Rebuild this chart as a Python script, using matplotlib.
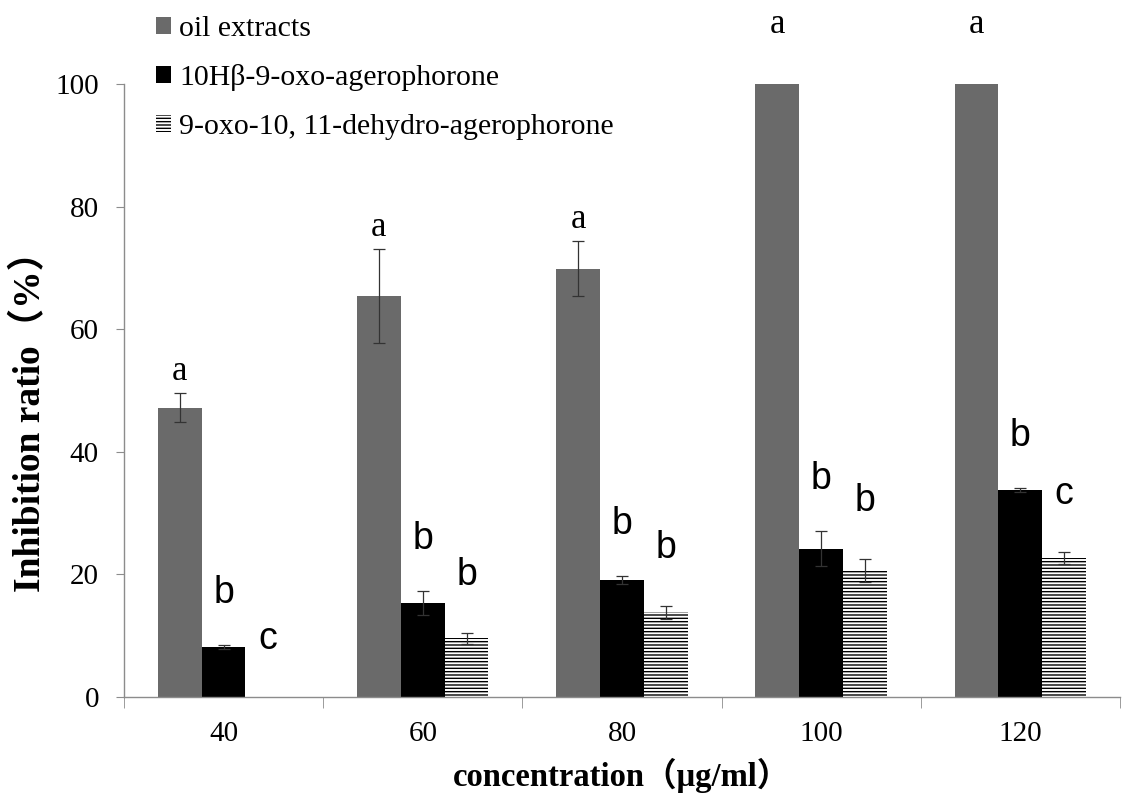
import numpy as np
import matplotlib
matplotlib.use("Agg")
from matplotlib import pyplot as plt

# concentrations (ug/ml) and inhibition ratio (%)
concentrations = ["40", "60", "80", "100", "120"]
series_names = ["oil extracts", "10H\u03b2-9-oxo-agerophorone", "9-oxo-10, 11-dehydro-agerophorone"]

oil = [47.2, 65.4, 69.9, 100.0, 100.0]
oil_err = [2.4, 7.7, 4.5, 0.0, 0.0]
oil_sig = ["a", "a", "a", "a", "a"]

oxo = [8.2, 15.3, 19.1, 24.2, 33.8]
oxo_err = [0.3, 2.0, 0.7, 2.9, 0.3]
oxo_sig = ["b", "b", "b", "b", "b"]

dehydro = [0.0, 9.6, 13.8, 20.6, 22.7]
dehydro_err = [0.0, 0.9, 1.1, 1.9, 1.0]
dehydro_sig = ["c", "b", "b", "b", "c"]

serif = ["Liberation Serif", "Noto Sans CJK SC"]
plt.rcParams["hatch.linewidth"] = 1.0

fig = plt.figure(figsize=(11.26, 7.95), dpi=100)
ax = fig.add_axes([0.1101, 0.1233, 0.8845, 0.7710])

x = np.arange(len(concentrations))
w = 0.22

b1 = ax.bar(x - w, oil, w, color="#6a6a6a", linewidth=0, label=series_names[0])
b2 = ax.bar(x, oxo, w, color="black", linewidth=0, label=series_names[1])
b3 = ax.bar(x + w, dehydro, w, color="white", edgecolor="black", hatch="-----",
            linewidth=0, label=series_names[2])

err_kw = dict(fmt="none", ecolor="#333333", elinewidth=0.9, capsize=4, capthick=0.9)
for xs, vals, errs in [(x - w, oil, oil_err), (x, oxo, oxo_err), (x + w, dehydro, dehydro_err)]:
    has = [i for i in range(len(vals)) if vals[i] > 0 and errs[i] > 0]
    ax.errorbar(xs[has], np.array(vals)[has], yerr=np.array(errs)[has], **err_kw)

# significance letters
for i in range(len(concentrations)):
    top = oil[i] + oil_err[i]
    pad = 7 if top >= 100 else 0.8
    ax.text(x[i] - w, top + pad, oil_sig[i], ha="center", va="bottom",
            fontsize=25, family=serif, clip_on=False)
    ax.text(x[i], oxo[i] + oxo_err[i] + 5.5, oxo_sig[i], ha="center", va="bottom",
            fontsize=27, family="Liberation Sans")
    ax.text(x[i] + w, dehydro[i] + dehydro_err[i] + 6.5, dehydro_sig[i], ha="center",
            va="bottom", fontsize=27, family="Liberation Sans")

ax.set_xlim(-0.5, len(concentrations) - 0.5)
ax.set_ylim(0, 100)
ax.set_yticks(range(0, 101, 20))
ax.set_xticks(x)
ax.set_xticklabels(concentrations)
ax.set_xticks(np.arange(len(concentrations) + 1) - 0.5, minor=True)

for s in ["top", "right"]:
    ax.spines[s].set_visible(False)
for s in ["left", "bottom"]:
    ax.spines[s].set_color("#8c8c8c")
    ax.spines[s].set_linewidth(1.0)

ax.tick_params(axis="y", direction="out", length=6, color="#8c8c8c", pad=12)
ax.tick_params(axis="x", which="major", length=0, pad=17)
ax.tick_params(axis="x", which="minor", direction="out", length=8, color="#8c8c8c")
for lab in ax.get_xticklabels() + ax.get_yticklabels():
    lab.set_family(serif)
    lab.set_fontsize(21)

fig.text(30 / 1126, 1 - 412 / 795, "Inhibition ratio\uff08%\uff09", rotation=90,
         ha="center", va="center", fontsize=27, fontweight="bold", family=serif)
fig.text(622 / 1126, 1 - 775 / 795, "concentration\uff08\u03bcg/ml\uff09",
         ha="center", va="center", fontsize=23.5, fontweight="bold", family=serif)

fig.legend(handles=[b1, b2, b3], loc="upper left", bbox_to_anchor=(0.128, 0.995),
           frameon=False, prop={"family": serif, "size": 21.5}, handlelength=0.5,
           handleheight=0.5, handletextpad=0.27, labelspacing=0.75, borderaxespad=0)

fig.savefig("out.png", dpi=100)
